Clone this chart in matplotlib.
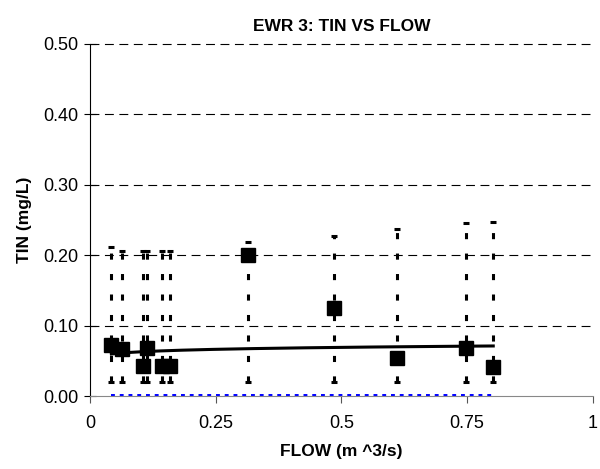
import matplotlib
matplotlib.use("Agg")
import matplotlib.pyplot as plt
import numpy as np

plt.rcParams['font.family'] = ['Liberation Sans', 'DejaVu Sans']

# flow (m^3/s), TIN (mg/L), and the range bars
flow = [0.0425, 0.064, 0.1045, 0.114, 0.144, 0.159, 0.314, 0.485, 0.611, 0.748, 0.802]
tin = [0.073, 0.067, 0.043, 0.069, 0.043, 0.043, 0.200, 0.126, 0.055, 0.069, 0.042]
tin_min = [0.02, 0.02, 0.02, 0.02, 0.02, 0.02, 0.02, 0.02, 0.02, 0.02, 0.02]
tin_max = [0.212, 0.206, 0.206, 0.206, 0.206, 0.206, 0.219, 0.228, 0.238, 0.246, 0.248]
baseline = [0, 0, 0, 0, 0, 0, 0, 0, 0, 0, 0]

x_ticks = [0, 0.25, 0.5, 0.75, 1]
x_labels = ['0', '0.25', '0.5', '0.75', '1']
y_ticks = [0, 0.1, 0.2, 0.3, 0.4, 0.5]

fig = plt.figure(figsize=(6, 4.69), dpi=100)
ax = fig.add_axes([0.15, 0.1546, 0.838, 0.752])

fx = np.array(flow)
fy = np.array(tin)

# range bars (dotted verticals with caps)
lo = fy - np.array(tin_min)
hi = np.array(tin_max) - fy
eb = ax.errorbar(fx, fy, yerr=[lo, hi], fmt='none', ecolor='black',
                 elinewidth=2.2, capsize=2.5, capthick=2.2, zorder=3)
for lc in eb[2]:
    lc.set_linestyle((0, (2, 4.7)))

# power trend line
b, a = np.polyfit(np.log(fx), np.log(fy), 1)
tx = np.linspace(fx.min(), fx.max(), 200)
ax.plot(tx, np.exp(a) * tx ** b, color='black', lw=2.2, zorder=4)

ax.plot(fx, fy, 's', color='black', ms=9.5, zorder=5)

ax.plot(fx, np.array(baseline) + 0.002, color='#0000ff', lw=1.4,
        linestyle=(0, (2, 2.5)), zorder=6, clip_on=False)

ax.set_xlim(0, 1)
ax.set_ylim(0, 0.5)
ax.set_xticks(x_ticks)
ax.set_xticklabels(x_labels)
ax.set_yticks(y_ticks)
ax.set_yticklabels(['%.2f' % v for v in y_ticks])
ax.tick_params(axis='x', direction='out', length=5, labelsize=13, pad=8, color='#555555')
ax.tick_params(axis='y', direction='inout', length=9, labelsize=13, pad=4)

for yv in y_ticks[1:]:
    ax.axhline(yv, color='black', lw=0.8, linestyle=(0, (8, 5)), zorder=1, clip_on=False)

ax.spines['top'].set_visible(False)
ax.spines['right'].set_visible(False)
ax.spines['bottom'].set_color('#888888')
ax.spines['left'].set_color('black')

ax.set_title('EWR 3: TIN VS FLOW', fontsize=12.5, fontweight='bold', pad=9)
ax.set_xlabel('FLOW (m ^3/s)', fontsize=12.5, fontweight='bold', labelpad=9)
ax.set_ylabel('TIN (mg/L)', fontsize=12.5, fontweight='bold', labelpad=8)

fig.savefig('out.png', dpi=100)
